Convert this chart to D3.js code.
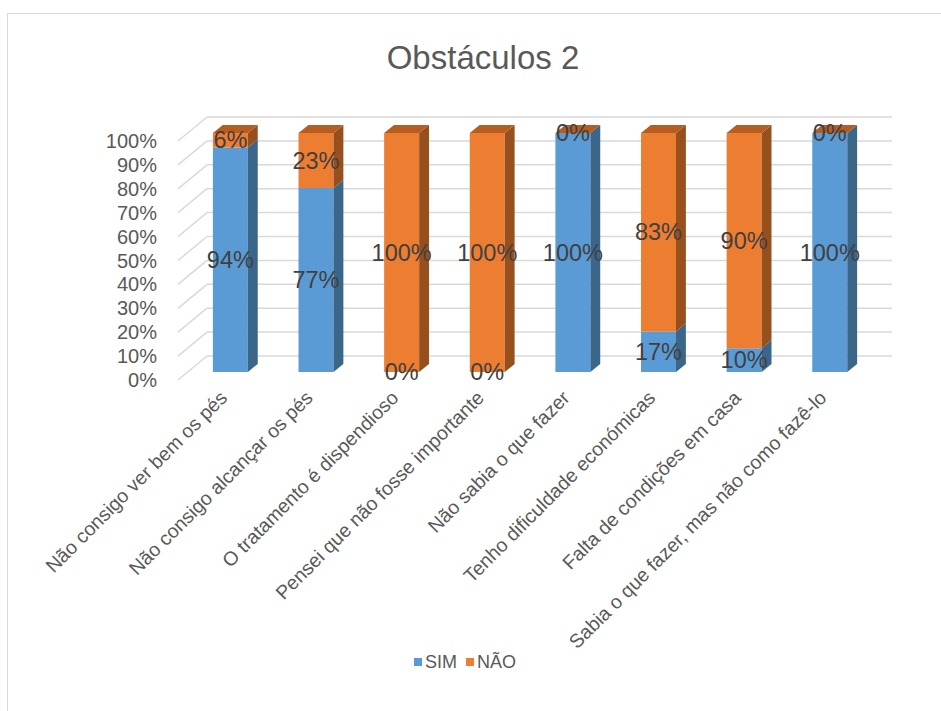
<!DOCTYPE html>
<html>
<head>
<meta charset="utf-8">
<script src="https://cdn.jsdelivr.net/npm/d3@7"></script>
<style>
  body { margin: 0; background: #fff; }
  text { font-family: "Liberation Sans", Arial, sans-serif; }
</style>
</head>
<body>
<div id="chart"></div>
<script>
//
// data
//
var categories = ['Não consigo ver bem os pés', 'Não consigo alcançar os pés', 'O tratamento é dispendioso',
  'Pensei que não fosse importante', 'Não sabia o que fazer', 'Tenho dificuldade económicas',
  'Falta de condições em casa', 'Sabia o que fazer, mas não como fazê-lo']
var sim = [94, 77, 0, 0, 100, 17, 10, 100]
var nao = [6, 23, 100, 100, 0, 83, 90, 0]
var seriesNames = ['SIM', 'NÃO']
var yTicks = [0, 10, 20, 30, 40, 50, 60, 70, 80, 90, 100]

//
// layout
//
var W = 941, H = 711
var dx = 29, dy = 24          // depth offset back -> front
var fz = 0.67, bz = 0.33      // bar front / back depth
var barW = 35
var colors = {
  SIM: {front: '#5b9bd5', side: '#3a6689', top: '#4a80b3'},
  'NÃO': {front: '#ed7d31', side: '#974f1e', top: '#b65d22'}
}

var svg = d3.select('#chart').append('svg')
  .attr('width', W).attr('height', H)

// chart frame
svg.append('rect')
  .attr('x', 7.5).attr('y', 13.5)
  .attr('width', W).attr('height', H)
  .attr('fill', '#fff').attr('stroke', '#d9d9d9').attr('stroke-width', 1)

// title
svg.append('text')
  .attr('x', 483).attr('y', 69)
  .attr('text-anchor', 'middle')
  .style('font-size', '33px')
  .style('fill', '#595959')
  .text('Obstáculos 2')

var x = d3.scaleBand().domain(categories).range([207, 892])
var y = d3.scaleLinear().domain([0, 100]).range([356, 117])

// back wall gridlines
svg.append('g').selectAll('line').data(yTicks).join('line')
  .attr('x1', 207).attr('x2', 892)
  .attr('y1', function(d) { return y(d) }).attr('y2', function(d) { return y(d) })
  .attr('stroke', '#d9d9d9').attr('stroke-width', 1.5)

// side wall gridlines
svg.append('g').selectAll('line').data(yTicks).join('line')
  .attr('x1', 207).attr('x2', 207 - dx)
  .attr('y1', function(d) { return y(d) }).attr('y2', function(d) { return y(d) + dy })
  .attr('stroke', '#d9d9d9').attr('stroke-width', 1.5)

// y axis labels
svg.append('g').selectAll('text').data(yTicks).join('text')
  .attr('x', 157)
  .attr('y', function(d) { return y(d) + dy })
  .attr('dy', '0.35em')
  .attr('text-anchor', 'end')
  .style('font-size', '20px')
  .style('fill', '#595959')
  .text(function(d) { return d + '%' })

// stacked data
var rows = categories.map(function(c, i) { return {cat: c, SIM: sim[i], 'NÃO': nao[i]} })
var stack = d3.stack().keys(seriesNames)(rows)

function pt(px, v, z) { return [px - z * dx, y(v) + z * dy] }
var line = d3.line()

var bars = svg.append('g')
categories.forEach(function(c, i) {
  var cx = x(c) + x.bandwidth() / 2
  var l = cx - barW / 2, r = cx + barW / 2
  stack.forEach(function(s, k) {
    var v0 = s[i][0], v1 = s[i][1]
    var col = colors[s.key]
    var g = bars.append('g')
    if (v1 > v0) {
      g.append('path').attr('d', line([pt(l, v0, fz), pt(r, v0, fz), pt(r, v1, fz), pt(l, v1, fz)]) + 'Z')
        .attr('fill', col.front)
      g.append('path').attr('d', line([pt(r, v0, fz), pt(r, v0, bz), pt(r, v1, bz), pt(r, v1, fz)]) + 'Z')
        .attr('fill', col.side)
    }
    // top face on the top-most segment (drawn even when zero height)
    if (k === stack.length - 1) {
      g.append('path').attr('d', line([pt(l, v1, fz), pt(r, v1, fz), pt(r, v1, bz), pt(l, v1, bz)]) + 'Z')
        .attr('fill', col.top)
    }
  })
})

// data labels
var labels = svg.append('g')
stack.forEach(function(s) {
  labels.selectAll(null).data(s).join('text')
    .attr('x', function(d, i) { return pt(x(categories[i]) + x.bandwidth() / 2, 0, fz)[0] })
    .attr('y', function(d) { return pt(0, (d[0] + d[1]) / 2, fz)[1] })
    .attr('dy', '0.35em')
    .attr('text-anchor', 'middle')
    .style('font-size', '23.5px')
    .style('fill', '#404040')
    .text(function(d) { return (d[1] - d[0]) + '%' })
})

// category labels
svg.append('g').selectAll('text').data(categories).join('text')
  .attr('transform', function(d) {
    var p = pt(x(d) + x.bandwidth() / 2, 0, fz)
    return 'translate(' + (p[0] - 2) + ',' + (p[1] + 27) + ') rotate(-45)'
  })
  .attr('text-anchor', 'end')
  .style('font-size', '19.5px')
  .style('fill', '#595959')
  .text(function(d) { return d })

// legend
var legend = svg.append('g').attr('transform', 'translate(414,662)')
var lx = [0, 52]
seriesNames.forEach(function(n, i) {
  legend.append('rect').attr('x', lx[i]).attr('y', -4).attr('width', 8).attr('height', 8)
    .attr('fill', colors[n].front)
  legend.append('text').attr('x', lx[i] + 11).attr('y', 0).attr('dy', '0.35em')
    .style('font-size', '18px').style('fill', '#595959').text(n)
})
</script>
</body>
</html>
